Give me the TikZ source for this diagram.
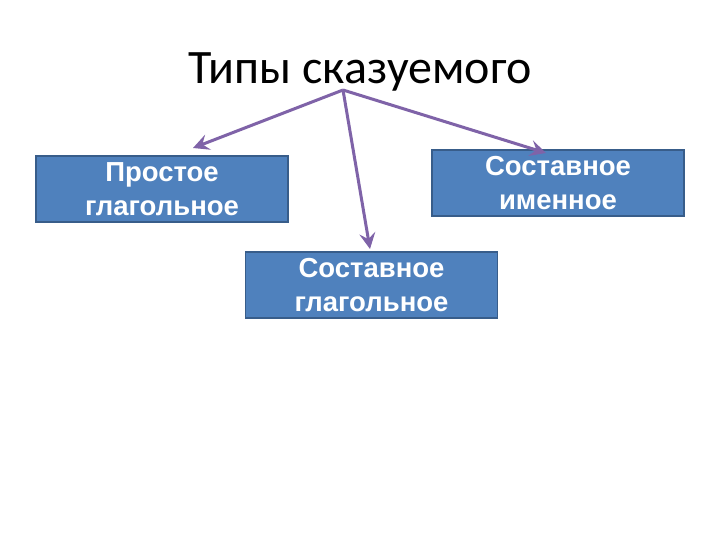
\documentclass[tikz,border=0pt]{standalone}
\usepackage{fontspec}
\setmainfont{Carlito}
\newfontfamily\boxfont{Liberation Sans}
\usetikzlibrary{arrows.meta}
\definecolor{boxfill}{HTML}{4F81BD}
\definecolor{boxline}{HTML}{385D8A}
\definecolor{arrowc}{HTML}{7F63A8}
\tikzset{
  typebox/.style={draw=boxline, line width=1.8pt, fill=boxfill, minimum width=252pt, minimum height=66pt, inner sep=0pt,
    text=white, font=\boxfont\bfseries\fontsize{27.5}{33.5}\selectfont, align=center},
  conn/.style={draw=arrowc, line width=3pt, -{Stealth[length=16pt, width=16pt, inset=6pt]}}
}
\begin{document}
\begin{tikzpicture}[x=1pt,y=-1pt]
\useasboundingbox[fill=white] (0,0) rectangle (720,540);
\node[font=\fontsize{48}{54}\selectfont, anchor=base] (title) at (360,84) {Типы сказуемого};
\coordinate (src) at (343,90);
\node[typebox] (b1) at (162,189) {Простое\\глагольное};
\node[typebox] (b2) at (371.5,285) {Составное\\глагольное};
\node[typebox] (b3) at (558,183) {Составное\\именное};
\draw[conn] (src) -- (193,148) coordinate (t1);
\draw[conn] (src) -- (370,249) coordinate (t2);
\draw[conn] (src) -- (546,153) coordinate (t3);
\end{tikzpicture}
\end{document}
